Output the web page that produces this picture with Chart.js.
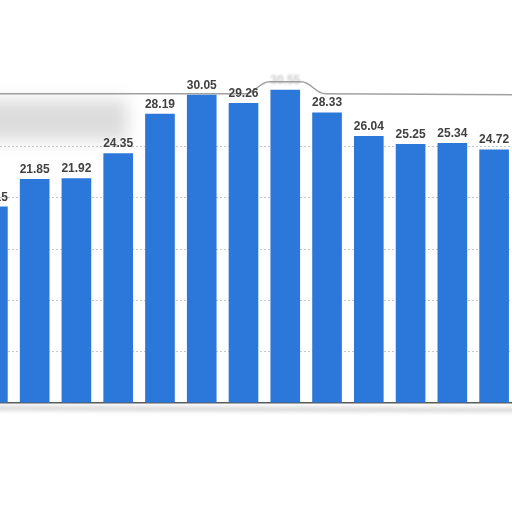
<!DOCTYPE html>
<html>
<head>
<meta charset="utf-8">
<script src="https://cdn.jsdelivr.net/npm/chart.js@4.4.0/dist/chart.umd.min.js"></script>
<style>
  html, body { margin: 0; padding: 0; background: #fff; overflow: hidden; width: 512px; height: 512px; }
  #wrap { position: absolute; left: -28px; top: 0; width: 543px; height: 512px; }
</style>
</head>
<body>
<div id="wrap"><canvas id="chart" width="543" height="512"></canvas></div>
<script>
// categories are cropped out of the picture, only the bars remain
const categories = ['2008', '2009', '2010', '2011', '2012', '2013', '2014', '2015', '2016', '2017', '2018', '2019', '2020'];
const values = [19.15, 21.85, 21.92, 24.35, 28.19, 30.05, 29.26, 30.55, 28.33, 26.04, 25.25, 25.34, 24.72];
const yTicks = [0, 5, 10, 15, 20, 25, 30, 35];

const BAR_BLUE = '#2b77da';
const LABEL_GREY = '#404040';
const FAINT_IDX = 7; // label hidden under the torn border, barely readable

// gris flou + bord supérieur + ombre sous l'axe (artefacts de la capture)
const backdrop = {
  id: 'backdrop',
  beforeDatasetsDraw(chart) {
    const { ctx, chartArea, scales } = chart;
    const yTop = scales.y.getPixelForValue(30.15);
    const yBase = scales.y.getPixelForValue(0);
    ctx.save();
    ctx.filter = 'blur(8px)';
    ctx.fillStyle = 'rgba(150,150,150,0.33)';
    ctx.fillRect(chartArea.left, yTop + 6, 155, 40);
    ctx.filter = 'blur(2px)';
    ctx.strokeStyle = 'rgba(120,120,120,0.35)';
    ctx.lineWidth = 4;
    ctx.beginPath();
    ctx.moveTo(chartArea.left, yBase + 5);
    ctx.lineTo(chartArea.right, yBase + 7);
    ctx.stroke();
    ctx.filter = 'blur(0.6px)';
    // bord supérieur, avec la bosse autour de la barre la plus haute
    const xa = scales.x.getPixelForValue(FAINT_IDX) - 26;
    const xb = scales.x.getPixelForValue(FAINT_IDX) + 26;
    ctx.strokeStyle = 'rgba(130,130,130,0.75)';
    ctx.lineWidth = 1.6;
    ctx.beginPath();
    ctx.moveTo(chartArea.left, yTop);
    ctx.lineTo(xa - 14, yTop);
    ctx.bezierCurveTo(xa - 4, yTop, xa, yTop - 12, xa + 10, yTop - 12);
    ctx.lineTo(xb - 10, yTop - 12);
    ctx.bezierCurveTo(xb, yTop - 12, xb + 4, yTop, xb + 14, yTop);
    ctx.lineTo(chartArea.right, yTop + 1);
    ctx.stroke();
    ctx.restore();
  }
};

const valueLabels = {
  id: 'valueLabels',
  afterDatasetsDraw(chart) {
    const { ctx } = chart;
    const meta = chart.getDatasetMeta(0);
    ctx.save();
    ctx.font = 'bold 12px "Liberation Sans", Arial, sans-serif';
    ctx.textAlign = 'center';
    ctx.textBaseline = 'alphabetic';
    meta.data.forEach((bar, i) => {
      if (i === FAINT_IDX) {
        ctx.filter = 'blur(1.2px)';
        ctx.fillStyle = 'rgba(150,150,150,0.5)';
      } else {
        ctx.filter = 'none';
        ctx.fillStyle = LABEL_GREY;
      }
      ctx.fillText(values[i].toFixed(2), bar.x, bar.y - 6);
    });
    ctx.restore();
  }
};

new Chart(document.getElementById('chart'), {
  type: 'bar',
  data: {
    labels: categories,
    datasets: [{
      data: values,
      backgroundColor: BAR_BLUE,
      borderWidth: 0,
      barPercentage: 0.71,
      categoryPercentage: 1.0
    }]
  },
  options: {
    responsive: false,
    animation: false,
    devicePixelRatio: 1,
    layout: { padding: { top: 44, bottom: 109, left: 0, right: 0 } },
    plugins: { legend: { display: false }, tooltip: { enabled: false } },
    scales: {
      x: {
        grid: { display: false, drawTicks: false },
        ticks: { display: false },
        border: { display: true, color: '#5a5a5a', width: 1.5 }
      },
      y: {
        min: 0,
        max: 35,
        afterBuildTicks(axis) { axis.ticks = yTicks.map(v => ({ value: v })); },
        grid: {
          drawTicks: false,
          color: c => (c.tick && c.tick.value > 0 && c.tick.value < 30) ? '#c8c8c8' : 'rgba(0,0,0,0)',
          lineWidth: 1
        },
        ticks: { display: false },
        border: { display: false, dash: [2, 2] }
      }
    }
  },
  plugins: [backdrop, valueLabels]
});
</script>
</body>
</html>
